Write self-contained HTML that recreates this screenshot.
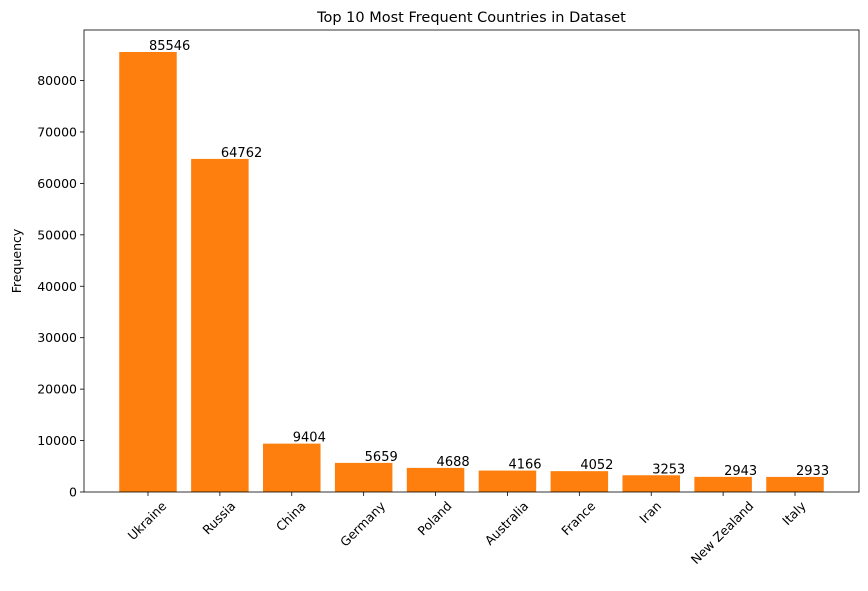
<!DOCTYPE html>
<html><head><meta charset="utf-8"><style>
body{margin:0;background:#fff;font-family:"Liberation Sans","DejaVu Sans",sans-serif;}
svg text{font-family:"DejaVu Sans","Liberation Sans",sans-serif;}
</style></head><body>
<svg id="chart" width="868" height="586" xmlns="http://www.w3.org/2000/svg"></svg>
<script>
const categories=["Ukraine","Russia","China","Germany","Poland","Australia","France","Iran","New Zealand","Italy"];
const values=[85546,64762,9404,5659,4688,4166,4052,3253,2943,2933];
const yTicks=[0,10000,20000,30000,40000,50000,60000,70000,80000];
const svg=document.getElementById('chart');
const NS="http://www.w3.org/2000/svg";
const L=84,R=859,T=30,B=492;
const ymax=Math.max(...values)*1.05;
const n=categories.length;
const span=(n-1+0.8)*1.1;
const x0=-0.4-(n-1+0.8)*0.05;
function xs(i){return L+(i-x0)/span*(R-L);}
function ys(v){return B-v/ymax*(B-T);}
function el(tag,attrs,name,txt){const e=document.createElementNS(NS,tag);for(const k in attrs)e.setAttribute(k,attrs[k]);


if(txt!==undefined)e.textContent=txt;svg.appendChild(e);return e;}
el('text',{x:(L+R)/2,y:22,'text-anchor':'middle','font-size':14.5,fill:'#000'},'chart-title','Top 10 Most Frequent Countries in Dataset');
const bw=0.8*(R-L)/span;
values.forEach((v,i)=>{
 const cx=xs(i);
 el('rect',{x:cx-bw/2,y:ys(v),width:bw,height:B-ys(v),fill:'#ff7f0e'},'bar-'+categories[i].toLowerCase().replace(/ /g,'-'));
 el('text',{x:cx+1,y:ys(v)-2,'font-size':13,fill:'#000'},'value-label',String(v));
 el('line',{x1:cx,x2:cx,y1:B,y2:B+4,stroke:'#000','stroke-width':0.8},'x-tick');
 const t=el('text',{x:0,y:0,'font-size':12.5,'text-anchor':'middle',fill:'#000'},'x-tick-label',categories[i]);
 const w=t.getComputedTextLength();
 const cy=B+7+(w+13)/Math.SQRT2/2;
 t.setAttribute('x',cx-1);t.setAttribute('y',cy+4.5);
 t.setAttribute('transform',`rotate(-45 ${cx-1} ${cy})`);
});
yTicks.forEach(t=>{
 const y=ys(t);
 el('line',{x1:L-4,x2:L,y1:y,y2:y,stroke:'#000','stroke-width':0.8},'y-tick');
 el('text',{x:L-7,y:y+4.5,'font-size':12.5,'text-anchor':'end',fill:'#000'},'y-tick-label',String(t));
});
el('rect',{x:L,y:T,width:R-L,height:B-T,fill:'none',stroke:'#000','stroke-width':0.8},'plot-frame');
el('text',{x:21,y:(T+B)/2,'font-size':12.5,'text-anchor':'middle',transform:`rotate(-90 21 ${(T+B)/2})`,fill:'#000'},'y-axis-title','Frequency');
</script>
</body></html>
